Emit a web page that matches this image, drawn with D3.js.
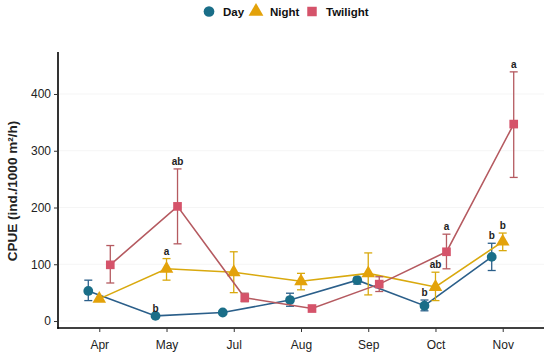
<!DOCTYPE html>
<html>
<head>
<meta charset="utf-8">
<script src="https://cdn.jsdelivr.net/npm/d3@7"></script>
<style>
  body { margin: 0; background: #fff; }
  text { font-family: "Liberation Sans", Arial, sans-serif; }
</style>
</head>
<body>
<svg id="chart" width="550" height="358"></svg>
<script>
// months on the x axis
var months = ["Apr", "May", "Jul", "Aug", "Sep", "Oct", "Nov"];
var yTicks = [0, 100, 200, 300, 400];

// means, lower and upper error bar ends, significance letters
var dayMean = [53, 9, 15, 37, 72, 27, 113];
var dayLow  = [36, 9, 15, 26, 65, 18, 89];
var dayHigh = [72, 9, 15, 49, 77, 37, 137];
var dayLbl  = ["", "b", "", "", "", "b", "b"];

var nightMean = [39, 92, 86, 70, 84, 60, 140];
var nightLow  = [39, 72, 50, 55, 46, 36, 124];
var nightHigh = [39, 110, 122, 84, 120, 86, 155];
var nightLbl  = ["", "a", "", "", "", "ab", "b"];

var twiMean = [99, 202, 41, 22, 65, 122, 347];
var twiLow  = [67, 136, 34, 22, 52, 92, 253];
var twiHigh = [133, 268, 49, 22, 78, 153, 439];
var twiLbl  = ["", "ab", "", "", "", "a", "a"];

var series = [
  { name: "Day", mean: dayMean, lo: dayLow, hi: dayHigh, lbl: dayLbl,
    line: "#2b5f8a", mark: "#1a6e88", shape: d3.symbolCircle, dx: -11, size: 75 },
  { name: "Night", mean: nightMean, lo: nightLow, hi: nightHigh, lbl: nightLbl,
    line: "#d9a90e", mark: "#e3a20a", shape: d3.symbolTriangle, dx: 0, size: 80 },
  { name: "Twilight", mean: twiMean, lo: twiLow, hi: twiHigh, lbl: twiLbl,
    line: "#b55a60", mark: "#d5536a", shape: d3.symbolSquare, dx: 11, size: 75 }
];

var svg = d3.select("#chart");
var pLeft = 58, pRight = 544, pTop = 52, pBottom = 328;

var x = d3.scalePoint().domain(months).range([pLeft, pRight]).padding(0.614);
var y = d3.scaleLinear().domain([-12.3, 474]).range([pBottom, pTop]);

// grid
svg.append("g").selectAll("line").data(yTicks).enter().append("line")
  .attr("x1", pLeft).attr("x2", pRight)
  .attr("y1", function(d) { return y(d); }).attr("y2", function(d) { return y(d); })
  .attr("stroke", "#f2f2f2").attr("stroke-width", 0.8);

// axes
var yAxis = svg.append("g").attr("transform", "translate(" + pLeft + ",0)")
  .call(d3.axisLeft(y).tickValues(yTicks).tickSize(4).tickPadding(3).tickSizeOuter(0));
var xAxis = svg.append("g").attr("transform", "translate(0," + pBottom + ")")
  .call(d3.axisBottom(x).tickSize(4).tickPadding(8).tickSizeOuter(0));
[xAxis, yAxis].forEach(function(a) {
  a.select(".domain").attr("stroke", "#000").attr("stroke-width", 1.6);
  a.selectAll(".tick line").attr("stroke", "#333");
  a.selectAll(".tick text").attr("fill", "#222").style("font-size", "12px");
});
yAxis.select(".domain").attr("d", "M0," + (pBottom + 0.8) + "V" + pTop);
xAxis.select(".domain").attr("d", "M" + (pLeft - 0.8) + ",0H" + pRight);

svg.append("text")
  .attr("transform", "translate(17,191) rotate(-90)")
  .attr("text-anchor", "middle")
  .style("font-size", "13.5px").style("font-weight", "bold").attr("fill", "#222")
  .text("CPUE (ind./1000 m²/h)");

// series
series.forEach(function(s) {
  var g = svg.append("g");
  var px = function(i) { return x(months[i]) + s.dx; };
  var idx = d3.range(months.length);

  g.append("path").datum(idx)
    .attr("fill", "none").attr("stroke", s.line).attr("stroke-width", 1.6)
    .attr("d", d3.line().x(px).y(function(i) { return y(s.mean[i]); }));

  var eb = g.selectAll(".eb").data(idx.filter(function(i) { return s.hi[i] - s.lo[i] > 1; }))
    .enter().append("g").attr("stroke", s.line).attr("stroke-width", 1.3);
  eb.append("line").attr("x1", px).attr("x2", px)
    .attr("y1", function(i) { return y(s.lo[i]); }).attr("y2", function(i) { return y(s.hi[i]); });
  eb.append("line").attr("x1", function(i) { return px(i) - 4; }).attr("x2", function(i) { return px(i) + 4; })
    .attr("y1", function(i) { return y(s.lo[i]); }).attr("y2", function(i) { return y(s.lo[i]); });
  eb.append("line").attr("x1", function(i) { return px(i) - 4; }).attr("x2", function(i) { return px(i) + 4; })
    .attr("y1", function(i) { return y(s.hi[i]); }).attr("y2", function(i) { return y(s.hi[i]); });

  g.selectAll(".pt").data(idx).enter().append("path")
    .attr("d", d3.symbol().type(s.shape).size(s.size))
    .attr("transform", function(i) { return "translate(" + px(i) + "," + y(s.mean[i]) + ")"; })
    .attr("fill", s.mark);

  g.selectAll(".lb").data(idx.filter(function(i) { return s.lbl[i]; })).enter().append("text")
    .attr("x", px).attr("y", function(i) { return y(s.hi[i]) - 4; })
    .attr("text-anchor", "middle")
    .style("font-size", "10px").style("font-weight", "bold").attr("fill", "#222")
    .text(function(i) { return s.lbl[i]; });
});

// legend
var legX = [209, 256, 312];
var legend = svg.append("g").selectAll("g").data(series).enter().append("g")
  .attr("transform", function(d, i) { return "translate(" + legX[i] + ",11.5)"; });
legend.append("path")
  .attr("d", function(d) { return d3.symbol().type(d.shape).size(d.size + 15)(); })
  .attr("fill", function(d) { return d.mark; });
legend.append("text").attr("x", 14).attr("y", 4.5)
  .style("font-size", "11.5px").style("font-weight", "bold").attr("fill", "#111")
  .text(function(d) { return d.name; });
</script>
</body>
</html>
